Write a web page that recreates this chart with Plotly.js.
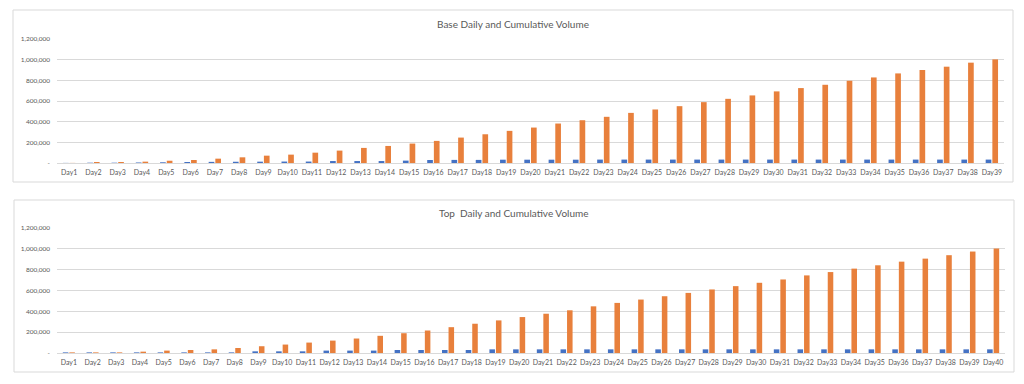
<!DOCTYPE html>
<html>
<head>
<meta charset="utf-8">
<script src="https://cdn.plot.ly/plotly-3.0.1.min.js"></script>
<style>html,body{margin:0;padding:0;background:#fff;}#chart{width:1024px;height:384px;}</style>
</head>
<body>
<div id="chart"></div>
<script>
// Base chart (39 days)
const baseDays = Array.from({length: 39}, (_, i) => 'Day' + (i + 1));
const baseDaily = [1000, 3000, 3000, 5000, 7000, 10000, 11000, 12000, 13000, 14000,
  14000, 19000, 19000, 19000, 23000, 29000, 30000, 30000, 32000, 32000,
  32000, 32000, 33000, 33000, 33000, 33000, 33000, 33000, 33000, 33000,
  33000, 33000, 33000, 33000, 33000, 33000, 33000, 33000, 33000];
const baseCumulative = [1000, 10000, 10000, 13000, 22000, 29000, 42000, 55000, 71000, 81000,
  100000, 120000, 146000, 165000, 188000, 214000, 246000, 278000, 311000, 343000,
  382000, 414000, 447000, 485000, 518000, 550000, 589000, 621000, 654000, 693000,
  725000, 757000, 796000, 828000, 867000, 900000, 932000, 971000, 1003000];

// Top chart (40 days)
const topDays = Array.from({length: 40}, (_, i) => 'Day' + (i + 1));
const topDaily = [6000, 6000, 6000, 6000, 6000, 6000, 6000, 6000, 16000, 16000,
  16000, 23000, 23000, 23000, 29000, 29000, 29000, 29000, 35000, 35000,
  35000, 35000, 35000, 35000, 35000, 35000, 35000, 35000, 35000, 35000,
  35000, 35000, 35000, 35000, 35000, 35000, 35000, 35000, 35000, 35000];
const topCumulative = [6000, 6000, 6000, 13000, 23000, 29000, 35000, 48000, 65000, 81000,
  100000, 119000, 139000, 165000, 190000, 216000, 248000, 281000, 313000, 345000,
  377000, 410000, 448000, 481000, 513000, 545000, 577000, 610000, 642000, 674000,
  706000, 745000, 777000, 810000, 842000, 877000, 906000, 939000, 974000, 1003000];

const yTicks = [0, 200000, 400000, 600000, 800000, 1000000, 1200000];
const yTickText = ['-', '200,000', '400,000', '600,000', '800,000', '1,000,000', '1,200,000'];

const BLUE = '#4472C4', ORANGE = '#E8803C', GRID = '#D9D9D9', TXT = '#595959';
const FONT = 'Lato, "Liberation Sans", sans-serif';
const H = 384, W = 1024;
const py = v => 1 - v / H;
const px = v => v / W;

const traces = [
  {type: 'bar', x: baseDays, y: baseDaily, name: 'Daily Volume', marker: {color: BLUE}, xaxis: 'x', yaxis: 'y'},
  {type: 'bar', x: baseDays, y: baseCumulative, name: 'Cumulative Volume', marker: {color: ORANGE}, xaxis: 'x', yaxis: 'y'},
  {type: 'bar', x: topDays, y: topDaily, name: 'Daily Volume', marker: {color: BLUE}, xaxis: 'x2', yaxis: 'y2'},
  {type: 'bar', x: topDays, y: topCumulative, name: 'Cumulative Volume', marker: {color: ORANGE}, xaxis: 'x2', yaxis: 'y2'}
];

const xCommon = {type: 'category', showgrid: false, showline: false, zeroline: false, ticks: '',
  ticklabelstandoff: 4, tickfont: {family: FONT, size: 7, color: TXT}, tickangle: 0, fixedrange: true};
const yCommon = {range: [0, 1200000], tickvals: yTicks, ticktext: yTickText, showgrid: true,
  gridcolor: GRID, gridwidth: 1, zeroline: true, zerolinecolor: GRID, zerolinewidth: 1, showline: false,
  ticks: '', ticklabelstandoff: 6, tickfont: {family: FONT, size: 6.5, color: TXT}, fixedrange: true};

const layout = {
  width: W, height: H,
  margin: {l: 0, r: 0, t: 0, b: 0},
  paper_bgcolor: '#fff', plot_bgcolor: '#fff',
  showlegend: false,
  barmode: 'group', bargap: 0.45, bargroupgap: 0.15,
  xaxis: Object.assign({}, xCommon, {domain: [px(57), px(1004)], anchor: 'y'}),
  yaxis: Object.assign({}, yCommon, {domain: [py(163), py(39)], anchor: 'x'}),
  xaxis2: Object.assign({}, xCommon, {domain: [px(57), px(1005)], anchor: 'y2'}),
  yaxis2: Object.assign({}, yCommon, {domain: [py(353), py(228)], anchor: 'x2'}),
  shapes: [
    {type: 'rect', xref: 'paper', yref: 'paper', x0: px(13), x1: px(1013), y0: py(182), y1: py(10), line: {color: GRID, width: 1}, layer: 'below'},
    {type: 'rect', xref: 'paper', yref: 'paper', x0: px(14), x1: px(1014), y0: py(372), y1: py(200), line: {color: GRID, width: 1}, layer: 'below'}
  ],
  annotations: [
    {text: 'Base Daily and Cumulative Volume', xref: 'paper', yref: 'paper', x: px(513), y: py(24), xanchor: 'center', yanchor: 'middle', showarrow: false, font: {family: FONT, size: 10, color: TXT}},
    {text: 'Top  Daily and Cumulative Volume', xref: 'paper', yref: 'paper', x: px(514), y: py(213), xanchor: 'center', yanchor: 'middle', showarrow: false, font: {family: FONT, size: 10, color: TXT}}
  ]
};

Plotly.newPlot('chart', traces, layout, {displayModeBar: false, staticPlot: true});
</script>
</body>
</html>
